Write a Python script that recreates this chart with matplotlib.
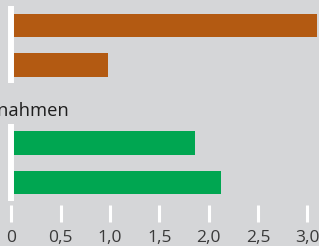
import matplotlib
matplotlib.use('Agg')
import matplotlib.pyplot as plt

plt.rcParams['font.family'] = ['Open Sans', 'DejaVu Sans']

# Daten
top_values = [3.10, 0.98]
bottom_values = [1.86, 2.12]
bottom_title = 'Einnahmen'
tick_values = [0, 0.5, 1.0, 1.5, 2.0, 2.5, 3.0]
tick_labels = ['0', '0,5', '1,0', '1,5', '2,0', '2,5', '3,0']

bg = '#d5d6d8'
orange = '#b35a12'
green = '#00a651'

fig = plt.figure(figsize=(3.19, 2.46), dpi=100, facecolor=bg)
ax = fig.add_axes([0, 0, 1, 1])
ax.set_facecolor(bg)
ax.axis('off')

top_pos = [0, 1]
bottom_pos = [3, 4]
ax.barh(top_pos, top_values, height=0.6, color=orange, zorder=2)
ax.barh(bottom_pos, bottom_values, height=0.6, color=green, zorder=2)

# weiße Achsenlinien je Gruppe
for pos in (top_pos, bottom_pos):
    ax.vlines(0, pos[0] - 0.5, pos[-1] + 0.47, color='white', lw=4.3, zorder=3)

ax.text(0.583, 2.31, bottom_title, ha='right', va='baseline',
        fontsize=13.2, fontweight='medium', color='#1e1e1e')

# x-Achse
ax.vlines(tick_values, 4.57, 5.0, color='white', lw=2.2, zorder=3)
for v, lab in zip(tick_values, tick_labels):
    ax.text(v, 5.41, lab, ha='center', va='center', fontsize=12.5, color='#3a3a3a')

ax.set_xlim(-11.5 / 98.6, (319 - 11.5) / 98.6)
ax.set_ylim(5.62, -0.65)

fig.savefig('out.png', dpi=100, facecolor=bg)
